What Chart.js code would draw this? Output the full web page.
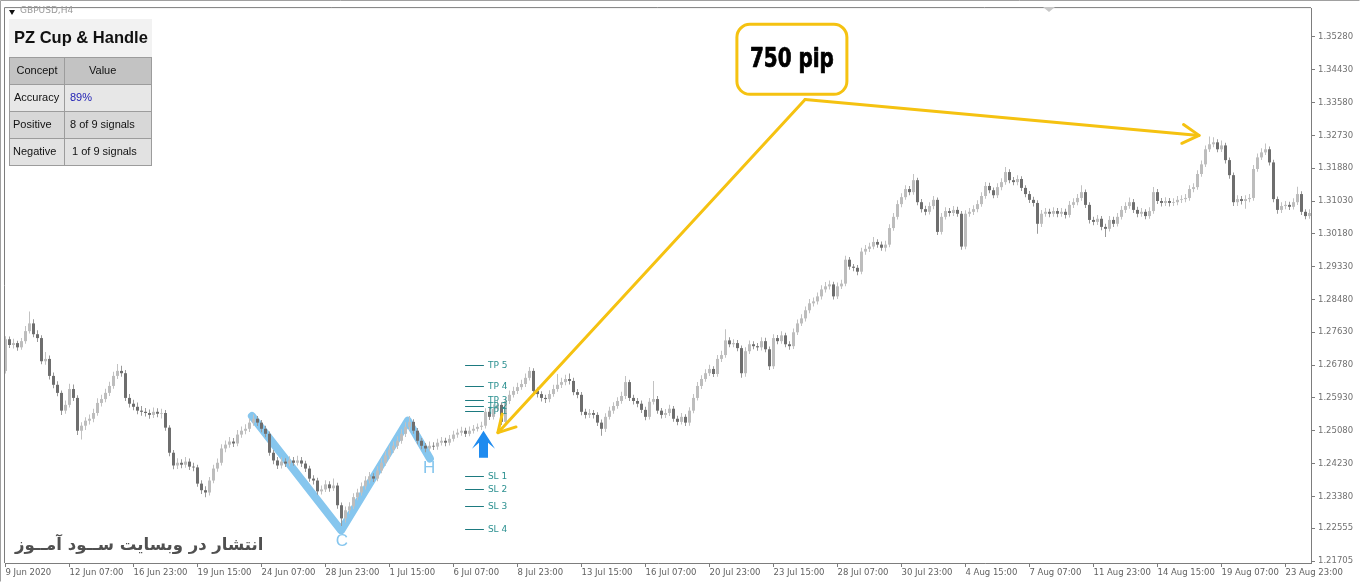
<!DOCTYPE html>
<html>
<head>
<meta charset="utf-8">
<script src="https://cdn.jsdelivr.net/npm/chart.js@4.4.1/dist/chart.umd.min.js"></script>
<style>
html, body { margin: 0; padding: 0; background: #fff; }
#wrap { position: relative; width: 1360px; height: 582px; overflow: hidden; }
#chart { position: absolute; left: 0; top: 0; }
.sym { position: absolute; left: 20px; top: 5px; font: 9px "DejaVu Sans"; color: #9a9a9a; white-space: nowrap; }
.tri { position: absolute; left: 9px; top: 10px; width: 0; height: 0; border-left: 3.5px solid transparent; border-right: 3.5px solid transparent; border-top: 5px solid #111; }
#panel { position: absolute; left: 9px; top: 19px; width: 143px; height: 38px; background: #f2f2f2; }
#panel .title { position: absolute; left: 5px; top: 9px; font: bold 16.5px "Liberation Sans"; color: #111; white-space: nowrap; }
.cell { position: absolute; box-sizing: border-box; border: 1px solid #9c9c9c; font: 11px "Liberation Sans"; color: #111; line-height: 25px; white-space: nowrap; }
#watermark { position: absolute; left: 15px; top: 535px; font: bold 16.5px "DejaVu Sans"; color: #505050; direction: rtl; white-space: nowrap; }
</style>
</head>
<body>
<div id="wrap">
  <canvas id="chart" width="1360" height="582"></canvas>
  <div class="tri"></div>
  <div class="sym">GBPUSD,H4</div>
  <div id="panel"><div class="title">PZ Cup &amp; Handle</div></div>
  <div class="cell" style="left:9px;top:57px;width:56px;height:28px;background:#c3c3c3;text-align:center;">Concept</div>
  <div class="cell" style="left:64px;top:57px;width:88px;height:28px;background:#c3c3c3;padding-left:24px;">Value</div>
  <div class="cell" style="left:9px;top:84px;width:56px;height:28px;background:#e7e7e7;padding-left:4px;">Accuracy</div>
  <div class="cell" style="left:64px;top:84px;width:88px;height:28px;background:#e7e7e7;padding-left:5px;color:#2323b5;">89%</div>
  <div class="cell" style="left:9px;top:111px;width:56px;height:28px;background:#d7d7d7;padding-left:3px;">Positive</div>
  <div class="cell" style="left:64px;top:111px;width:88px;height:28px;background:#d7d7d7;padding-left:5px;">8 of 9 signals</div>
  <div class="cell" style="left:9px;top:138px;width:56px;height:28px;background:#e2e2e2;padding-left:3px;">Negative</div>
  <div class="cell" style="left:64px;top:138px;width:88px;height:28px;background:#e2e2e2;padding-left:7px;">1 of 9 signals</div>
  <div id="watermark">انتشار در وبسایت ســود آمــوز</div>
</div>
<script>
// GBPUSD H4 candles, 9 Jun - 21 Aug 2020
const opens = [
  1.2663,1.2745,1.2730,1.2735,1.2724,1.2740,1.2766,1.2786,1.2758,1.2748,
  1.2688,1.2694,1.2650,1.2627,1.2606,1.2560,1.2575,1.2616,1.2593,1.2508,
  1.2521,1.2534,1.2539,1.2554,1.2580,1.2590,1.2606,1.2624,1.2650,1.2663,
  1.2657,1.2593,1.2578,1.2570,1.2560,1.2557,1.2554,1.2549,1.2557,1.2552,
  1.2554,1.2516,1.2451,1.2418,1.2425,1.2420,1.2428,1.2415,1.2413,1.2371,
  1.2354,1.2348,1.2379,1.2410,1.2425,1.2462,1.2472,1.2480,1.2475,1.2498,
  1.2508,1.2513,1.2529,1.2539,1.2529,1.2513,1.2500,1.2451,1.2431,1.2418,
  1.2428,1.2423,1.2431,1.2425,1.2431,1.2423,1.2410,1.2384,1.2379,1.2351,
  1.2356,1.2369,1.2359,1.2366,1.2315,1.2281,1.2302,1.2312,1.2336,1.2348,
  1.2364,1.2379,1.2390,1.2384,1.2405,1.2425,1.2444,1.2459,1.2469,1.2482,
  1.2500,1.2518,1.2531,1.2508,1.2482,1.2469,1.2462,1.2469,1.2467,1.2477,
  1.2482,1.2477,1.2487,1.2498,1.2503,1.2508,1.2500,1.2508,1.2513,1.2518,
  1.2521,1.2557,1.2544,1.2565,1.2575,1.2531,1.2585,1.2601,1.2611,1.2621,
  1.2629,1.2645,1.2663,1.2611,1.2603,1.2593,1.2590,1.2603,1.2616,1.2627,
  1.2634,1.2642,1.2637,1.2608,1.2601,1.2557,1.2549,1.2554,1.2549,1.2529,
  1.2513,1.2544,1.2560,1.2572,1.2585,1.2598,1.2634,1.2593,1.2585,1.2578,
  1.2562,1.2544,1.2583,1.2590,1.2560,1.2549,1.2554,1.2565,1.2539,1.2531,
  1.2544,1.2529,1.2560,1.2593,1.2624,1.2642,1.2657,1.2668,1.2655,1.2694,
  1.2704,1.2742,1.2732,1.2735,1.2722,1.2657,1.2714,1.2732,1.2727,1.2724,
  1.2740,1.2719,1.2675,1.2748,1.2740,1.2755,1.2732,1.2727,1.2763,1.2786,
  1.2799,1.2820,1.2838,1.2843,1.2856,1.2874,1.2882,1.2887,1.2856,1.2882,
  1.2889,1.2951,1.2933,1.2930,1.2920,1.2972,1.2979,1.2985,1.2997,1.2990,
  1.2982,1.2990,1.3033,1.3062,1.3095,1.3113,1.3134,1.3126,1.3157,1.3100,
  1.3082,1.3075,1.3090,1.3106,1.3023,1.3062,1.3077,1.3072,1.3080,1.3070,
  1.2985,1.3070,1.3075,1.3082,1.3095,1.3116,1.3142,1.3131,1.3118,1.3139,
  1.3152,1.3178,1.3157,1.3152,1.3160,1.3137,1.3121,1.3106,1.3098,1.3044,
  1.3070,1.3075,1.3070,1.3077,1.3070,1.3075,1.3067,1.3093,1.3100,1.3111,
  1.3126,1.3093,1.3054,1.3049,1.3057,1.3036,1.3031,1.3054,1.3044,1.3062,
  1.3080,1.3090,1.3100,1.3080,1.3070,1.3075,1.3064,1.3077,1.3126,1.3103,
  1.3098,1.3103,1.3098,1.3100,1.3106,1.3108,1.3111,1.3134,1.3139,1.3173,
  1.3198,1.3237,1.3250,1.3255,1.3237,1.3247,1.3209,1.3170,1.3100,1.3108,
  1.3103,1.3108,1.3111,1.3186,1.3216,1.3229,1.3237,1.3203,1.3108,1.3080,
  1.3090,1.3093,1.3088,1.3100,1.3121,1.3075,1.3064
];
const highs = [
  1.2753,1.2752,1.2746,1.2741,1.2748,1.2779,1.2817,1.2797,1.2768,1.2755,
  1.2712,1.2703,1.2659,1.2636,1.2612,1.2586,1.2630,1.2628,1.2600,1.2530,
  1.2543,1.2550,1.2565,1.2592,1.2601,1.2617,1.2635,1.2661,1.2681,1.2676,
  1.2665,1.2603,1.2588,1.2581,1.2572,1.2567,1.2563,1.2568,1.2566,1.2565,
  1.2562,1.2522,1.2458,1.2437,1.2434,1.2440,1.2436,1.2425,1.2420,1.2380,
  1.2364,1.2388,1.2420,1.2436,1.2473,1.2483,1.2492,1.2489,1.2510,1.2519,
  1.2525,1.2540,1.2550,1.2546,1.2536,1.2521,1.2506,1.2458,1.2440,1.2439,
  1.2437,1.2442,1.2440,1.2443,1.2440,1.2430,1.2417,1.2393,1.2386,1.2366,
  1.2380,1.2377,1.2384,1.2373,1.2322,1.2312,1.2323,1.2346,1.2358,1.2374,
  1.2390,1.2401,1.2398,1.2416,1.2436,1.2455,1.2470,1.2480,1.2494,1.2512,
  1.2530,1.2546,1.2538,1.2515,1.2489,1.2476,1.2480,1.2478,1.2487,1.2492,
  1.2490,1.2497,1.2508,1.2513,1.2518,1.2516,1.2519,1.2523,1.2527,1.2531,
  1.2566,1.2570,1.2576,1.2586,1.2582,1.2594,1.2612,1.2622,1.2632,1.2640,
  1.2656,1.2673,1.2670,1.2620,1.2610,1.2601,1.2613,1.2627,1.2655,1.2645,
  1.2653,1.2656,1.2645,1.2616,1.2608,1.2565,1.2564,1.2562,1.2556,1.2537,
  1.2553,1.2570,1.2582,1.2595,1.2609,1.2650,1.2640,1.2601,1.2593,1.2586,
  1.2570,1.2593,1.2637,1.2598,1.2567,1.2564,1.2575,1.2572,1.2547,1.2554,
  1.2551,1.2569,1.2603,1.2634,1.2652,1.2667,1.2679,1.2675,1.2704,1.2715,
  1.2771,1.2750,1.2745,1.2743,1.2729,1.2724,1.2742,1.2740,1.2735,1.2750,
  1.2749,1.2726,1.2758,1.2756,1.2766,1.2762,1.2740,1.2773,1.2796,1.2810,
  1.2830,1.2849,1.2853,1.2866,1.2885,1.2893,1.2897,1.2894,1.2892,1.2899,
  1.2961,1.2958,1.2940,1.2937,1.2982,1.2989,1.2995,1.3010,1.3004,1.2998,
  1.3000,1.3043,1.3072,1.3105,1.3123,1.3144,1.3142,1.3173,1.3163,1.3108,
  1.3091,1.3100,1.3116,1.3112,1.3072,1.3087,1.3085,1.3090,1.3088,1.3077,
  1.3079,1.3085,1.3092,1.3105,1.3126,1.3152,1.3150,1.3138,1.3149,1.3162,
  1.3191,1.3185,1.3165,1.3170,1.3167,1.3144,1.3129,1.3114,1.3105,1.3080,
  1.3085,1.3083,1.3087,1.3085,1.3085,1.3083,1.3103,1.3110,1.3121,1.3144,
  1.3133,1.3100,1.3062,1.3067,1.3064,1.3044,1.3064,1.3062,1.3072,1.3090,
  1.3100,1.3112,1.3108,1.3088,1.3085,1.3082,1.3087,1.3139,1.3134,1.3111,
  1.3113,1.3111,1.3110,1.3116,1.3118,1.3121,1.3144,1.3149,1.3183,1.3208,
  1.3247,1.3270,1.3268,1.3263,1.3260,1.3254,1.3216,1.3177,1.3118,1.3116,
  1.3118,1.3121,1.3196,1.3226,1.3240,1.3252,1.3244,1.3210,1.3115,1.3100,
  1.3103,1.3101,1.3110,1.3140,1.3128,1.3082,1.3082
];
const lows = [
  1.2656,1.2722,1.2721,1.2715,1.2718,1.2733,1.2760,1.2750,1.2738,1.2680,
  1.2679,1.2641,1.2618,1.2597,1.2549,1.2552,1.2568,1.2585,1.2497,1.2485,
  1.2510,1.2524,1.2530,1.2547,1.2571,1.2582,1.2598,1.2617,1.2642,1.2648,
  1.2585,1.2568,1.2561,1.2551,1.2547,1.2545,1.2539,1.2541,1.2543,1.2540,
  1.2508,1.2442,1.2408,1.2409,1.2411,1.2412,1.2406,1.2403,1.2363,1.2344,
  1.2336,1.2340,1.2372,1.2402,1.2418,1.2452,1.2464,1.2466,1.2468,1.2490,
  1.2499,1.2505,1.2521,1.2520,1.2504,1.2491,1.2443,1.2421,1.2409,1.2410,
  1.2414,1.2416,1.2417,1.2418,1.2414,1.2401,1.2376,1.2369,1.2342,1.2343,
  1.2349,1.2350,1.2352,1.2306,1.2261,1.2270,1.2292,1.2305,1.2328,1.2340,
  1.2356,1.2371,1.2375,1.2377,1.2398,1.2417,1.2436,1.2451,1.2461,1.2474,
  1.2492,1.2510,1.2500,1.2473,1.2460,1.2452,1.2455,1.2458,1.2459,1.2470,
  1.2468,1.2470,1.2480,1.2490,1.2495,1.2492,1.2494,1.2501,1.2506,1.2510,
  1.2514,1.2536,1.2537,1.2557,1.2523,1.2525,1.2577,1.2594,1.2603,1.2614,
  1.2621,1.2638,1.2603,1.2594,1.2584,1.2580,1.2582,1.2596,1.2609,1.2619,
  1.2626,1.2628,1.2600,1.2592,1.2548,1.2540,1.2541,1.2540,1.2520,1.2495,
  1.2505,1.2537,1.2552,1.2565,1.2578,1.2590,1.2585,1.2576,1.2569,1.2554,
  1.2535,1.2537,1.2576,1.2552,1.2540,1.2541,1.2546,1.2531,1.2522,1.2524,
  1.2520,1.2521,1.2553,1.2586,1.2616,1.2635,1.2650,1.2647,1.2648,1.2686,
  1.2697,1.2724,1.2724,1.2714,1.2645,1.2648,1.2707,1.2719,1.2715,1.2716,
  1.2711,1.2665,1.2668,1.2732,1.2733,1.2724,1.2718,1.2720,1.2756,1.2779,
  1.2791,1.2812,1.2830,1.2835,1.2848,1.2866,1.2874,1.2848,1.2849,1.2875,
  1.2882,1.2925,1.2921,1.2911,1.2913,1.2964,1.2971,1.2978,1.2982,1.2974,
  1.2972,1.2983,1.3026,1.3055,1.3087,1.3106,1.3118,1.3119,1.3092,1.3073,
  1.3066,1.3068,1.3082,1.3015,1.3016,1.3055,1.3063,1.3064,1.3062,1.2977,
  1.2978,1.3062,1.3067,1.3074,1.3088,1.3109,1.3123,1.3110,1.3111,1.3131,
  1.3145,1.3149,1.3144,1.3144,1.3129,1.3113,1.3098,1.3089,1.3018,1.3036,
  1.3062,1.3061,1.3062,1.3061,1.3062,1.3058,1.3060,1.3085,1.3092,1.3104,
  1.3085,1.3045,1.3040,1.3041,1.3027,1.3010,1.3024,1.3036,1.3037,1.3055,
  1.3072,1.3083,1.3072,1.3061,1.3062,1.3056,1.3057,1.3070,1.3095,1.3089,
  1.3090,1.3089,1.3090,1.3092,1.3098,1.3100,1.3104,1.3126,1.3132,1.3166,
  1.3191,1.3230,1.3242,1.3229,1.3230,1.3200,1.3161,1.3090,1.3090,1.3094,
  1.3083,1.3100,1.3104,1.3179,1.3209,1.3222,1.3195,1.3100,1.3070,1.3072,
  1.3082,1.3080,1.3081,1.3093,1.3067,1.3056,1.3057
];
const closes = [
  1.2745,1.2730,1.2735,1.2724,1.2740,1.2766,1.2786,1.2758,1.2748,1.2688,
  1.2694,1.2650,1.2627,1.2606,1.2560,1.2575,1.2616,1.2593,1.2508,1.2521,
  1.2534,1.2539,1.2554,1.2580,1.2590,1.2606,1.2624,1.2650,1.2663,1.2657,
  1.2593,1.2578,1.2570,1.2560,1.2557,1.2554,1.2549,1.2557,1.2552,1.2554,
  1.2516,1.2451,1.2418,1.2425,1.2420,1.2428,1.2415,1.2413,1.2371,1.2354,
  1.2348,1.2379,1.2410,1.2425,1.2462,1.2472,1.2480,1.2475,1.2498,1.2508,
  1.2513,1.2529,1.2539,1.2529,1.2513,1.2500,1.2451,1.2431,1.2418,1.2428,
  1.2423,1.2431,1.2425,1.2431,1.2423,1.2410,1.2384,1.2379,1.2351,1.2356,
  1.2369,1.2359,1.2366,1.2315,1.2281,1.2302,1.2312,1.2336,1.2348,1.2364,
  1.2379,1.2390,1.2384,1.2405,1.2425,1.2444,1.2459,1.2469,1.2482,1.2500,
  1.2518,1.2531,1.2508,1.2482,1.2469,1.2462,1.2469,1.2467,1.2477,1.2482,
  1.2477,1.2487,1.2498,1.2503,1.2508,1.2500,1.2508,1.2513,1.2518,1.2521,
  1.2557,1.2544,1.2565,1.2575,1.2531,1.2585,1.2601,1.2611,1.2621,1.2629,
  1.2645,1.2663,1.2611,1.2603,1.2593,1.2590,1.2603,1.2616,1.2627,1.2634,
  1.2642,1.2637,1.2608,1.2601,1.2557,1.2549,1.2554,1.2549,1.2529,1.2513,
  1.2544,1.2560,1.2572,1.2585,1.2598,1.2634,1.2593,1.2585,1.2578,1.2562,
  1.2544,1.2583,1.2590,1.2560,1.2549,1.2554,1.2565,1.2539,1.2531,1.2544,
  1.2529,1.2560,1.2593,1.2624,1.2642,1.2657,1.2668,1.2655,1.2694,1.2704,
  1.2742,1.2732,1.2735,1.2722,1.2657,1.2714,1.2732,1.2727,1.2724,1.2740,
  1.2719,1.2675,1.2748,1.2740,1.2755,1.2732,1.2727,1.2763,1.2786,1.2799,
  1.2820,1.2838,1.2843,1.2856,1.2874,1.2882,1.2887,1.2856,1.2882,1.2889,
  1.2951,1.2933,1.2930,1.2920,1.2972,1.2979,1.2985,1.2997,1.2990,1.2982,
  1.2990,1.3033,1.3062,1.3095,1.3113,1.3134,1.3126,1.3157,1.3100,1.3082,
  1.3075,1.3090,1.3106,1.3023,1.3062,1.3077,1.3072,1.3080,1.3070,1.2985,
  1.3070,1.3075,1.3082,1.3095,1.3116,1.3142,1.3131,1.3118,1.3139,1.3152,
  1.3178,1.3157,1.3152,1.3160,1.3137,1.3121,1.3106,1.3098,1.3044,1.3070,
  1.3075,1.3070,1.3077,1.3070,1.3075,1.3067,1.3093,1.3100,1.3111,1.3126,
  1.3093,1.3054,1.3049,1.3057,1.3036,1.3031,1.3054,1.3044,1.3062,1.3080,
  1.3090,1.3100,1.3080,1.3070,1.3075,1.3064,1.3077,1.3126,1.3103,1.3098,
  1.3103,1.3098,1.3100,1.3106,1.3108,1.3111,1.3134,1.3139,1.3173,1.3198,
  1.3237,1.3250,1.3255,1.3237,1.3247,1.3209,1.3170,1.3100,1.3108,1.3103,
  1.3108,1.3111,1.3186,1.3216,1.3229,1.3237,1.3203,1.3108,1.3080,1.3090,
  1.3093,1.3088,1.3100,1.3121,1.3075,1.3064,1.3072
];

// axis labels (one date label every 16 bars)
const xTickIndex = [0,16,32,48,64,80,96,112,128,144,160,176,192,208,224,240,256,272,288,304,320];
const xTickLabels = ['9 Jun 2020','12 Jun 07:00','16 Jun 23:00','19 Jun 15:00','24 Jun 07:00','28 Jun 23:00',
  '1 Jul 15:00','6 Jul 07:00','8 Jul 23:00','13 Jul 15:00','16 Jul 07:00','20 Jul 23:00','23 Jul 15:00',
  '28 Jul 07:00','30 Jul 23:00','4 Aug 15:00','7 Aug 07:00','11 Aug 23:00','14 Aug 15:00','19 Aug 07:00','23 Aug 23:00'];
const yTickValues = [1.35280,1.34430,1.33580,1.32730,1.31880,1.31030,1.30180,1.29330,1.28480,
  1.27630,1.26780,1.25930,1.25080,1.24230,1.23380,1.22555,1.21705];

// cup & handle pattern points (bar index, price)
const cupIndex = [61.6, 83.9, 100.6, 106.1];
const cupPrice = [1.2546, 1.2250, 1.2534, 1.2436];

// take profit / stop loss levels of the signal
const levelNames = ['TP 5','TP 4','TP 3','TP 2','TP 1','SL 1','SL 2','SL 3','SL 4'];
const levelPrices = [1.2679, 1.2624, 1.2588, 1.2571, 1.2558, 1.2390, 1.2358, 1.2312, 1.2253];
const levelFrom = 114.9, levelTo = 119.6;
const signalIndex = 119.5, signalPrice = 1.2508;

// "750 pip" callout
const calloutText = '750 pip';
const calloutAt = [196.6, 1.3470];
const arrowFrom = [199.9, 1.3366];
const arrowTargets = [[123.1, 1.2503], [298.4, 1.3273]];

const bars = closes.map((c, i) => i);
const isUp = closes.map((c, i) => c >= opens[i]);

function arrowHead(ctx, tx, ty, fx, fy, len, ang) {
    const a = Math.atan2(fy - ty, fx - tx);
    ctx.beginPath();
    ctx.moveTo(tx + len * Math.cos(a + ang), ty + len * Math.sin(a + ang));
    ctx.lineTo(tx, ty);
    ctx.lineTo(tx + len * Math.cos(a - ang), ty + len * Math.sin(a - ang));
    ctx.stroke();
}

function roundRect(ctx, x, y, w, h, r) {
    ctx.beginPath();
    ctx.moveTo(x + r, y);
    ctx.arcTo(x + w, y, x + w, y + h, r);
    ctx.arcTo(x + w, y + h, x, y + h, r);
    ctx.arcTo(x, y + h, x, y, r);
    ctx.arcTo(x, y, x + w, y, r);
    ctx.closePath();
}

const overlay = {
    id: 'overlay',
    afterDatasetsDraw(chart) {
        const {ctx, scales: {x, y}} = chart;
        const px = v => x.getPixelForValue(v);
        const py = v => y.getPixelForValue(v);
        ctx.save();

        // C / H labels
        ctx.fillStyle = '#86c6ee';
        ctx.font = '17px "Liberation Sans"';
        ctx.textAlign = 'center';
        ctx.textBaseline = 'middle';
        ctx.fillText('C', px(84.1), py(1.2222));
        ctx.fillText('H', px(105.9), py(1.2410));

        // TP / SL levels
        ctx.font = '9px "DejaVu Sans"';
        ctx.textAlign = 'left';
        levelNames.forEach((name, k) => {
            const yy = Math.round(py(levelPrices[k])) + 0.5;
            ctx.strokeStyle = '#1d7a80';
            ctx.lineWidth = 1;
            ctx.beginPath();
            ctx.moveTo(px(levelFrom), yy);
            ctx.lineTo(px(levelTo), yy);
            ctx.stroke();
            ctx.fillStyle = '#2b9090';
            ctx.fillText(name, px(levelTo) + 4, yy);
        });

        // buy signal arrow
        const ax = px(signalIndex), ay = py(signalPrice);
        ctx.fillStyle = '#1f8bef';
        ctx.beginPath();
        ctx.moveTo(ax, ay);
        ctx.lineTo(ax + 11.5, ay + 18);
        ctx.lineTo(ax + 4.5, ay + 12);
        ctx.lineTo(ax + 4.5, ay + 27);
        ctx.lineTo(ax - 4.5, ay + 27);
        ctx.lineTo(ax - 4.5, ay + 12);
        ctx.lineTo(ax - 11.5, ay + 18);
        ctx.closePath();
        ctx.fill();

        // yellow arrows
        ctx.strokeStyle = '#f5c211';
        ctx.lineWidth = 3;
        ctx.lineCap = 'round';
        ctx.lineJoin = 'round';
        const fx = px(arrowFrom[0]), fy = py(arrowFrom[1]);
        arrowTargets.forEach(t => {
            const tx = px(t[0]), ty = py(t[1]);
            ctx.beginPath();
            ctx.moveTo(fx, fy);
            ctx.lineTo(tx, ty);
            ctx.stroke();
            arrowHead(ctx, tx, ty, fx, fy, 19, 0.52);
        });

        // callout box
        const bx = px(calloutAt[0]), by = py(calloutAt[1]);
        roundRect(ctx, bx - 55, by - 35, 110, 70, 13);
        ctx.fillStyle = '#fff';
        ctx.fill();
        ctx.lineWidth = 3;
        ctx.stroke();
        ctx.font = 'bold 26px "DejaVu Sans Condensed", "DejaVu Sans"';
        ctx.textAlign = 'center';
        ctx.textBaseline = 'middle';
        const w = ctx.measureText(calloutText).width;
        ctx.translate(bx, by + 1);
        ctx.scale(84 / w, 1);
        ctx.fillStyle = '#000';
        ctx.strokeStyle = '#000';
        ctx.lineWidth = 0.7;
        ctx.fillText(calloutText, 0, 0);
        ctx.strokeText(calloutText, 0, 0);
        ctx.restore();
    },
    afterDraw(chart) {
        const ctx = chart.ctx;
        const a = chart.chartArea;
        ctx.save();
        ctx.strokeStyle = '#a0a0a0';
        ctx.lineWidth = 1;
        ctx.beginPath();
        ctx.moveTo(0.5, 581.5); ctx.lineTo(0.5, 0.5); ctx.lineTo(1359.5, 0.5);
        ctx.stroke();
        ctx.strokeStyle = '#7d7d7d';
        ctx.beginPath();
        ctx.moveTo(a.left - 0.5, a.bottom); ctx.lineTo(a.left - 0.5, a.top - 0.5); ctx.lineTo(a.right, a.top - 0.5);
        ctx.stroke();
        // chart shift marker
        ctx.fillStyle = '#c8c8c8';
        ctx.beginPath();
        ctx.moveTo(1043, a.top - 1); ctx.lineTo(1055, a.top - 1); ctx.lineTo(1049, a.top + 4);
        ctx.closePath();
        ctx.fill();
        ctx.restore();
    }
};

Chart.defaults.font.family = '"DejaVu Sans"';
new Chart(document.getElementById('chart'), {
    type: 'bar',
    data: {
        datasets: [
            {
                type: 'line',
                data: cupIndex.map((v, k) => ({x: v, y: cupPrice[k]})),
                borderColor: '#86c6ee',
                borderWidth: 8,
                borderCapStyle: 'round',
                borderJoinStyle: 'round',
                pointRadius: 0,
                tension: 0,
                order: 5
            },
            {
                data: bars.map(i => ({x: i, y: [lows[i], highs[i]]})),
                backgroundColor: isUp.map(u => u ? '#c2c2c2' : '#9a9a9a'),
                barPercentage: 1,
                barThickness: 1,
                maxBarThickness: 1,
                grouped: false,
                inflateAmount: 0,
                order: 2
            },
            {
                data: bars.map(i => ({x: i, y: [opens[i], closes[i]]})),
                backgroundColor: isUp.map(u => u ? '#bdbdbd' : '#6e6e6e'),
                barPercentage: 1,
                barThickness: 3,
                maxBarThickness: 3,
                grouped: false,
                inflateAmount: 0,
                order: 1
            }
        ]
    },
    options: {
        responsive: false,
        animation: false,
        devicePixelRatio: 1,
        layout: {padding: {left: 5, top: 5, right: 0, bottom: 0}},
        plugins: {legend: {display: false}, tooltip: {enabled: false}},
        scales: {
            x: {
                type: 'linear',
                min: -0.125,
                max: 326.375,
                offset: false,
                afterBuildTicks: s => { s.ticks = xTickIndex.map(v => ({value: v})); },
                afterFit: s => { s.height = 19; },
                ticks: {
                    autoSkip: false,
                    maxRotation: 0,
                    align: 'start',
                    padding: 1,
                    color: '#606060',
                    font: {size: 8.5},
                    callback: (v, i) => xTickLabels[i]
                },
                grid: {drawOnChartArea: false, offset: false, tickLength: 4, color: '#7d7d7d'},
                border: {color: '#7d7d7d'}
            },
            y: {
                type: 'linear',
                position: 'right',
                min: 1.21654,
                max: 1.36027,
                afterBuildTicks: s => { s.ticks = yTickValues.map(v => ({value: v})); },
                afterFit: s => { s.width = 49; },
                ticks: {
                    padding: 3,
                    color: '#707070',
                    font: {size: 8.5},
                    callback: v => v.toFixed(5)
                },
                grid: {drawOnChartArea: false, tickLength: 4, color: '#7d7d7d'},
                border: {color: '#7d7d7d'}
            }
        }
    },
    plugins: [overlay]
});
</script>
</body>
</html>
